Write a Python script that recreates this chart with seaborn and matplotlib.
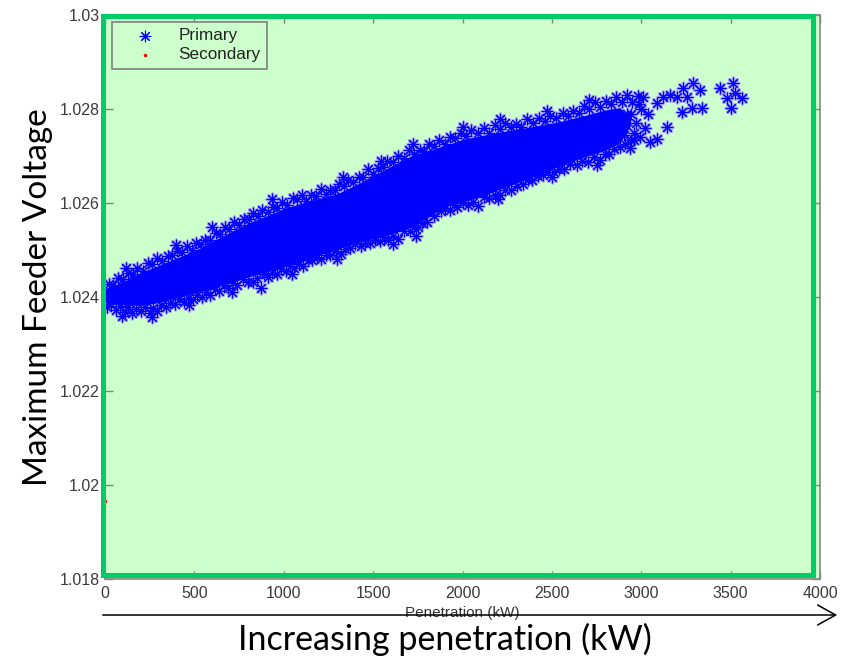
import matplotlib
matplotlib.use("Agg")
import matplotlib.pyplot as plt
from matplotlib.patches import Rectangle, FancyArrowPatch
import seaborn as sns
import pandas as pd

# ---- data -------------------------------------------------------------
# Envelope of the densely packed primary-feeder cloud (kW, p.u.)
core_kw = [0, 100, 200, 300, 400, 500, 600, 700, 800, 900, 1000,
           1100, 1200, 1300, 1400, 1500, 1600, 1700, 1800, 1900, 2000,
           2100, 2200, 2300, 2400, 2500, 2600, 2700, 2800, 2880, 2940]
core_low = [1.02388, 1.02383, 1.02382, 1.02388, 1.02398, 1.02408, 1.02418,
            1.02430, 1.02442, 1.02454, 1.02464, 1.02475, 1.02490, 1.02502,
            1.02514, 1.02524, 1.02534, 1.02547, 1.02568, 1.02592, 1.02602,
            1.02613, 1.02628, 1.02642, 1.02657, 1.02672, 1.02687, 1.02700,
            1.02712, 1.02728, 1.02765]
core_high = [1.02418, 1.02432, 1.02452, 1.02467, 1.02483, 1.02498, 1.02518,
             1.02538, 1.02557, 1.02572, 1.02588, 1.02600, 1.02610, 1.02620,
             1.02638, 1.02658, 1.02678, 1.02697, 1.02710, 1.02722, 1.02735,
             1.02743, 1.02750, 1.02757, 1.02763, 1.02770, 1.02778, 1.02788,
             1.02798, 1.02803, 1.02780]

# Primary-feeder samples on the upper fringe (outer and inner rows)
upper_kw = [20, 70, 130, 180, 240, 290, 350, 400, 460, 510, 560, 620, 670,
            720, 780, 830, 880, 940, 990, 1050, 1100, 1150, 1210, 1260, 1310,
            1360, 1420, 1470, 1530, 1580, 1640, 1700, 1760, 1810, 1870, 1930,
            1990, 2050, 2120, 2180, 2240, 2300, 2360, 2430, 2490, 2560, 2620,
            2680, 2740, 2800, 2860, 2920, 2980]
upper_v = [1.02428, 1.02440, 1.02452, 1.02462, 1.02472, 1.02482, 1.02488,
           1.02498, 1.02508, 1.02515, 1.02522, 1.02536, 1.02548, 1.02560,
           1.02566, 1.02578, 1.02586, 1.02592, 1.02603, 1.02610, 1.02618,
           1.02616, 1.02630, 1.02627, 1.02640, 1.02650, 1.02656, 1.02672,
           1.02674, 1.02690, 1.02700, 1.02712, 1.02712, 1.02725, 1.02733,
           1.02740, 1.02750, 1.02755, 1.02759, 1.02765, 1.02770, 1.02768,
           1.02778, 1.02781, 1.02785, 1.02792, 1.02796, 1.02806, 1.02815,
           1.02818, 1.02825, 1.02830, 1.02828]
upper_in_kw = [45, 100, 155, 210, 265, 320, 375, 430, 485, 535, 590, 645,
               695, 750, 805, 855, 910, 965, 1020, 1075, 1125, 1180, 1235,
               1285, 1335, 1390, 1445, 1500, 1555, 1610, 1670, 1730, 1785,
               1840, 1900, 1960, 2020, 2085, 2150, 2210, 2270, 2330, 2395,
               2460, 2525, 2590, 2650, 2710, 2770, 2830, 2890, 2950]
upper_in_v = [1.02425, 1.02438, 1.02450, 1.02455, 1.02470, 1.02476, 1.02490,
              1.02495, 1.02500, 1.02512, 1.02522, 1.02535, 1.02545, 1.02553,
              1.02565, 1.02572, 1.02580, 1.02590, 1.02596, 1.02608, 1.02605,
              1.02615, 1.02620, 1.02628, 1.02636, 1.02645, 1.02655, 1.02662,
              1.02676, 1.02688, 1.02695, 1.02705, 1.02710, 1.02722, 1.02725,
              1.02738, 1.02742, 1.02748, 1.02750, 1.02758, 1.02762, 1.02762,
              1.02770, 1.02775, 1.02780, 1.02785, 1.02792, 1.02800, 1.02805,
              1.02810, 1.02815, 1.02815]
upper_out_kw = [115, 395, 600, 935, 1330, 1545, 1725, 2005, 2210, 2470, 2710]
upper_out_v = [1.02462, 1.02510, 1.02548, 1.02608, 1.02655, 1.02690, 1.02725,
               1.02762, 1.02778, 1.02795, 1.02820]

# Primary-feeder samples on the lower fringe (outer and inner rows)
lower_kw = [0, 10, 60, 110, 150, 200, 250, 290, 340, 390, 440, 490, 540,
            590, 640, 690, 740, 800, 827, 872, 910, 960, 1010, 1060, 1110,
            1160, 1210, 1260, 1320, 1370, 1430, 1480, 1540, 1581, 1640, 1709,
            1750, 1800, 1877, 1930, 1970, 2030, 2084, 2150, 2210, 2270, 2341,
            2390, 2450, 2510, 2570, 2640, 2700, 2771, 2820]
lower_v = [1.02393, 1.02378, 1.02372, 1.02368, 1.02366, 1.02370, 1.02366,
           1.02370, 1.02378, 1.02385, 1.02390, 1.02395, 1.02400, 1.02405,
           1.02412, 1.02420, 1.02425, 1.02432, 1.02431, 1.02420, 1.02442,
           1.02450, 1.02455, 1.02462, 1.02465, 1.02478, 1.02480, 1.02490,
           1.02492, 1.02505, 1.02508, 1.02515, 1.02520, 1.02522, 1.02524,
           1.02540, 1.02548, 1.02560, 1.02582, 1.02585, 1.02592, 1.02595,
           1.02594, 1.02610, 1.02618, 1.02628, 1.02640, 1.02648, 1.02660,
           1.02665, 1.02672, 1.02680, 1.02688, 1.02691, 1.02705]
lower_in_kw = [35, 85, 130, 175, 225, 270, 315, 365, 415, 465, 515, 565,
               615, 665, 715, 770, 850, 890, 935, 985, 1035, 1085, 1135,
               1185, 1235, 1290, 1345, 1400, 1455, 1510, 1560, 1610, 1675,
               1730, 1775, 1840, 1900, 1950, 2000, 2060, 2120, 2180, 2240,
               2305, 2365, 2420, 2480, 2540, 2600, 2670, 2735, 2795, 2850,
               2910, 2960]
lower_in_v = [1.02385, 1.02380, 1.02378, 1.02374, 1.02378, 1.02376, 1.02382,
              1.02388, 1.02395, 1.02398, 1.02405, 1.02410, 1.02418, 1.02425,
              1.02430, 1.02438, 1.02440, 1.02448, 1.02452, 1.02460, 1.02466,
              1.02470, 1.02478, 1.02486, 1.02490, 1.02498, 1.02502, 1.02512,
              1.02515, 1.02522, 1.02528, 1.02530, 1.02540, 1.02550, 1.02558,
              1.02572, 1.02590, 1.02595, 1.02600, 1.02602, 1.02612, 1.02618,
              1.02628, 1.02636, 1.02648, 1.02658, 1.02666, 1.02672, 1.02682,
              1.02690, 1.02698, 1.02705, 1.02715, 1.02725, 1.02735]
lower_out_kw = [95, 265, 470, 710, 1045, 1300, 1610, 1740, 2200, 2500, 2750]
lower_out_v = [1.02360, 1.02358, 1.02382, 1.02410, 1.02448, 1.02480, 1.02512,
               1.02530, 1.02608, 1.02655, 1.02680]

# Thinning end of the cloud and the sparse high-penetration tail
tail_kw = [2883, 2905, 2912, 2918, 2939, 2940, 2945, 2960, 2970, 2990, 2994,
           3000, 3011, 3020, 3040, 3050, 3089, 3089, 3123, 3145, 3162, 3201,
           3229, 3235, 3257, 3285, 3291, 3330, 3341, 3441, 3480, 3503, 3514,
           3525, 3564]
tail_v = [1.02719, 1.02745, 1.02765, 1.02790, 1.02717, 1.02790, 1.02735,
          1.02750, 1.02770, 1.02810, 1.02740, 1.02800, 1.02825, 1.02760,
          1.02790, 1.02729, 1.02812, 1.02736, 1.02825, 1.02761, 1.02829,
          1.02825, 1.02793, 1.02844, 1.02825, 1.02802, 1.02855, 1.02840,
          1.02802, 1.02844, 1.02823, 1.02802, 1.02855, 1.02834, 1.02823]

# Secondary feeder sample
secondary_kw = [0]
secondary_v = [1.01966]

x_ticks = [0, 500, 1000, 1500, 2000, 2500, 3000, 3500, 4000]
y_ticks = [1.018, 1.02, 1.022, 1.024, 1.026, 1.028, 1.03]
y_tick_labels = ["1.018", "1.02", "1.022", "1.024", "1.026", "1.028", "1.03"]

primary = pd.DataFrame({
    "kw": (upper_in_kw + lower_in_kw + upper_kw + lower_kw
           + upper_out_kw + lower_out_kw + tail_kw),
    "v": (upper_in_v + lower_in_v + upper_v + lower_v
          + upper_out_v + lower_out_v + tail_v),
})
secondary = pd.DataFrame({"kw": secondary_kw, "v": secondary_v})

# ---- style --------------------------------------------------------------
sns.set_style("ticks")
plt.rcParams["font.family"] = ["Liberation Sans", "DejaVu Sans"]

W, H = 850, 659
fig = plt.figure(figsize=(W / 100, H / 100), dpi=100)
ax = fig.add_axes([105 / W, 1 - 579 / H, (820 - 105) / W, (579 - 15) / H])
ax.set_facecolor("#CCFFCC")

blue = "#0000FF"
# soft rim under the markers, then the dense core, then the markers
sns.scatterplot(data=primary, x="kw", y="v", marker=(8, 2, 0), s=60,
                color="#A8A8F4", linewidth=2.4, legend=False, ax=ax,
                zorder=1.5)
ax.fill_between(core_kw, core_low, core_high, color=blue, lw=0, zorder=2)
sns.scatterplot(data=primary, x="kw", y="v", marker=(8, 2, 0), s=60,
                color=blue, linewidth=0.8, label="Primary", ax=ax, zorder=3)
sns.scatterplot(data=secondary, x="kw", y="v", marker=".", s=25,
                color="red", edgecolor="red", linewidth=0, label="Secondary",
                ax=ax, zorder=3, clip_on=False)

ax.set_xlim(0, 4000)
ax.set_ylim(1.018, 1.03)
ax.set_xticks(x_ticks)
ax.set_xticklabels([str(t) for t in x_ticks])
ax.set_yticks(y_ticks)
ax.set_yticklabels(y_tick_labels)
ax.set_xlabel("")
ax.set_ylabel("")
ax.tick_params(direction="in", length=6, width=1, color="#808080",
               top=True, right=True, labelsize=11.5, labelcolor="#3a3a3a")
ax.tick_params(axis="x", pad=5)
ax.tick_params(axis="y", pad=4)
for sp in ax.spines.values():
    sp.set_visible(True)
    sp.set_color("#888888")
    sp.set_linewidth(1.2)

leg = ax.legend(loc="upper left", bbox_to_anchor=(0.010, 0.988),
                borderaxespad=0, frameon=True, fancybox=False,
                edgecolor="#808080", facecolor="#CCFFCC", framealpha=1,
                fontsize=12.3, handlelength=3.1, handletextpad=0.4,
                borderpad=0.38, labelspacing=0.22)
leg.get_frame().set_linewidth(1.2)
for t in leg.get_texts():
    t.set_color("#222222")

# Highlight frame around the plotting area
fig.add_artist(Rectangle((102.5 / W, 1 - 574.5 / H), (812.5 - 102.5) / W,
                         (574.5 - 15.5) / H, transform=fig.transFigure,
                         fill=False, edgecolor="#00CC66", lw=3.6, zorder=10))

# Original axis caption with the direction arrow over it
fig.text(462 / W, 1 - 613.5 / H, "Penetration (kW)", ha="center", va="center",
         fontsize=11, color="#333333")
fig.add_artist(FancyArrowPatch((100 / W, 1 - 615 / H), (840 / W, 1 - 615 / H),
                               transform=fig.transFigure,
                               arrowstyle="->,head_length=1.3,head_width=0.72",
                               mutation_scale=10, color="black", lw=1.1,
                               zorder=11))

fig.text(445 / W, 1 - 639.5 / H, "Increasing penetration (kW)", ha="center",
         va="center", fontsize=24.5, family=["Lato", "DejaVu Sans"],
         color="black")
fig.text(38 / W, 1 - 297 / H, "Maximum Feeder Voltage", ha="center",
         va="center", rotation=90, fontsize=24,
         family=["Lato", "DejaVu Sans"], color="black")

fig.savefig("out.png", dpi=100)
